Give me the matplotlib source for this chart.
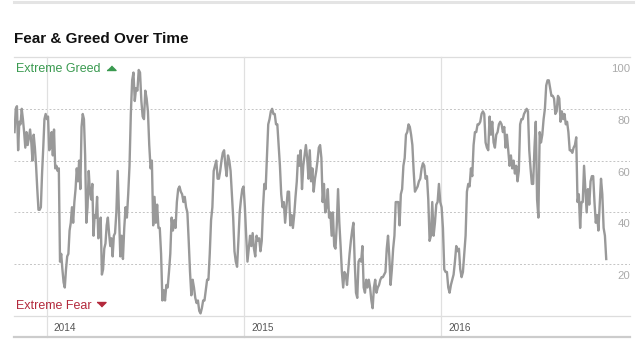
import numpy as np
import pandas as pd
import matplotlib
matplotlib.use("Agg")
import matplotlib.pyplot as plt
from matplotlib.lines import Line2D

plt.rcParams['font.family'] = ['Liberation Sans', 'DejaVu Sans']

# Fear & Greed index readings, one list per half-year stretch
nov13_may14 = [71, 80, 81, 64, 75, 74, 80, 76, 71, 65, 71, 66, 69, 72, 67, 60, 70, 65, 58, 49,
               41, 41, 42, 55, 65, 76, 78, 76, 77, 64, 65, 71, 62, 72, 57, 58, 56, 57, 21, 24,
               18, 13, 11, 18, 23, 24, 33, 36, 42, 36, 44, 49, 57, 52, 60, 49, 73, 78, 76, 62,
               36, 42, 56, 48, 45, 51, 31, 39, 38, 46, 30, 31, 38, 16, 18, 26, 28, 35, 38, 32,
               27, 30, 23, 31, 32]
may14_nov14 = [40, 56, 39, 23, 31, 22, 34, 42, 38, 47, 58, 78, 91, 94, 83, 88, 87, 95, 94, 83,
               77, 76, 87, 84, 79, 66, 57, 60, 35, 46, 36, 43, 34, 34, 24, 6, 10, 6, 12, 11,
               17, 24, 38, 33, 37, 34, 44, 49, 50, 48, 47, 44, 46, 42, 40, 29, 17, 8, 14, 11,
               7, 5, 6, 2, 1, 3, 6, 6, 10, 14, 14, 24, 37, 42, 56, 58]
nov14_may15 = [60, 53, 53, 56, 60, 63, 64, 58, 54, 62, 60, 56, 47, 38, 25, 21, 19, 29, 40, 45,
               49, 50, 42, 31, 21, 26, 31, 27, 32, 26, 23, 31, 29, 30, 25, 29, 42, 51, 49, 61,
               74, 76, 79, 80, 78, 78, 74, 74, 66, 58, 47, 42, 44, 36, 42, 48, 48, 35, 39, 34,
               39, 46, 52, 62, 58, 64, 49, 58, 62, 66, 61, 53, 64, 52, 57, 48, 53]
may15_nov15 = [56, 60, 65, 66, 61, 44, 51, 40, 42, 49, 38, 40, 31, 40, 27, 26, 35, 49, 36, 27,
               17, 11, 17, 16, 12, 18, 24, 29, 33, 36, 21, 9, 7, 21, 22, 21, 27, 11, 9, 14,
               11, 14, 11, 6, 3, 11, 14, 9, 11, 12, 14, 15, 15, 16, 17, 26, 31, 23, 12, 18,
               26, 31, 44, 44, 44, 35, 47, 49, 58, 61, 70, 71, 74, 73, 70, 66, 56, 48]
nov15_may16 = [49, 50, 52, 53, 57, 59, 58, 53, 54, 45, 29, 31, 44, 31, 36, 43,
               44, 51, 44, 42, 34, 18, 17, 17, 11, 9, 12, 14, 16, 21, 27, 25, 26, 18, 15, 17,
               24, 31, 48, 51, 50, 57, 54, 66, 71, 71, 74, 74, 75, 78, 79, 78, 67, 65, 64, 77,
               70, 75, 67, 65, 70, 71, 74, 75, 74, 71, 73, 65, 70, 64, 58, 62, 57, 60, 55]
may16_nov16 = [58, 52, 56, 74, 76, 76, 78, 79, 80, 79, 64, 57, 51, 51, 65, 75, 45, 38, 71, 67,
               70, 76, 80, 89, 91, 91, 88, 85, 85, 84, 78, 79, 85, 84, 75, 79, 76, 78, 74, 75,
               71, 64, 64, 63, 65, 66, 69, 44, 47, 34, 44, 44, 58, 49, 40, 49, 43, 52, 54, 54,
               44, 36, 39, 33, 43, 53, 47, 34, 31, 22]

period_edges = ["2013-11-02", "2014-05-07", "2014-11-08", "2015-05-12",
                "2015-11-13", "2016-05-16", "2016-11-01"]
periods = [nov13_may14, may14_nov14, nov14_may15, may15_nov15, nov15_may16, may16_nov16]

years = [2014, 2015, 2016]
grid_levels = [20, 40, 60, 80]
tick_levels = [100, 80, 60, 40, 20]

dates, values = [], []
for i, vals in enumerate(periods):
    if i == 0:
        rng = pd.date_range(period_edges[i], period_edges[i + 1], periods=len(vals))
    else:
        rng = pd.date_range(period_edges[i], period_edges[i + 1], periods=len(vals) + 1)[1:]
    dates.extend(rng)
    values.extend(vals)

W, H = 643, 349
fig = plt.figure(figsize=(W / 100, H / 100), dpi=100)
ax = fig.add_axes([14 / W, 33 / H, 616 / W, 259 / H])
ax.set_xlim(pd.Timestamp("2013-11-01"), pd.Timestamp("2016-12-15"))
ax.set_ylim(0, 100)
ax.axis('off')

# frame lines and grid
ax.axhline(100, color='#dddddd', lw=0.9, clip_on=False, zorder=0)
ax.axhline(0, color='#dddddd', lw=0.9, clip_on=False, zorder=0)
for lv in grid_levels:
    ax.axhline(lv, color='#c4c4c4', lw=0.7, ls=(0, (2, 2)), zorder=0)

for y in years:
    ts = pd.Timestamp(f"{y}-01-01")
    ax.axvline(ts, ymin=-21 / 259, ymax=1, color='#e0e0e0', lw=0.9, clip_on=False, zorder=0)
    ax.annotate(str(y), xy=(ts, 0), xycoords=('data', 'axes fraction'),
                xytext=(5, -8.4), textcoords='offset points',
                ha='left', va='center', fontsize=7.2, color='#555555')

for lv in tick_levels:
    ax.annotate(str(lv), xy=(1, lv), xycoords=('axes fraction', 'data'),
                xytext=(0, -8.6), textcoords='offset points',
                ha='right', va='center', fontsize=8.2, color='#aaaaaa')

ax.plot(dates, values, color='#999999', lw=1.7, solid_joinstyle='round', zorder=3)

# title and zone labels
fig.text(14 / W, 1 - 43.3 / H, 'Fear & Greed Over Time', fontsize=11,
         fontweight='bold', va='baseline', color='#111111')

green = '#3a9a50'
red = '#b3293c'
fig.text(16 / W, 1 - 71.7 / H, 'Extreme Greed', fontsize=9, color=green, va='baseline')
fig.add_artist(Line2D([110.5 / W], [1 - 70 / H], marker=[(-1, 0), (1, 0), (0, 1)],
                      ms=6.5, color=green, transform=fig.transFigure))
fig.text(16 / W, 1 - 309 / H, 'Extreme Fear', fontsize=9, color=red, va='baseline')
fig.add_artist(Line2D([101 / W], [1 - 302.3 / H], marker=[(-1, 0), (1, 0), (0, -1)],
                      ms=6.5, color=red, transform=fig.transFigure))

# header and footer rules
fig.add_artist(Line2D([14 / W, 633 / W], [1 - 1.5 / H] * 2, lw=2.2, color='#e4e4e4',
                      transform=fig.transFigure))
fig.add_artist(Line2D([14 / W, 630 / W], [1 - 337 / H] * 2, lw=1.6, color='#cccccc',
                      transform=fig.transFigure))

fig.savefig('out.png', dpi=100)
